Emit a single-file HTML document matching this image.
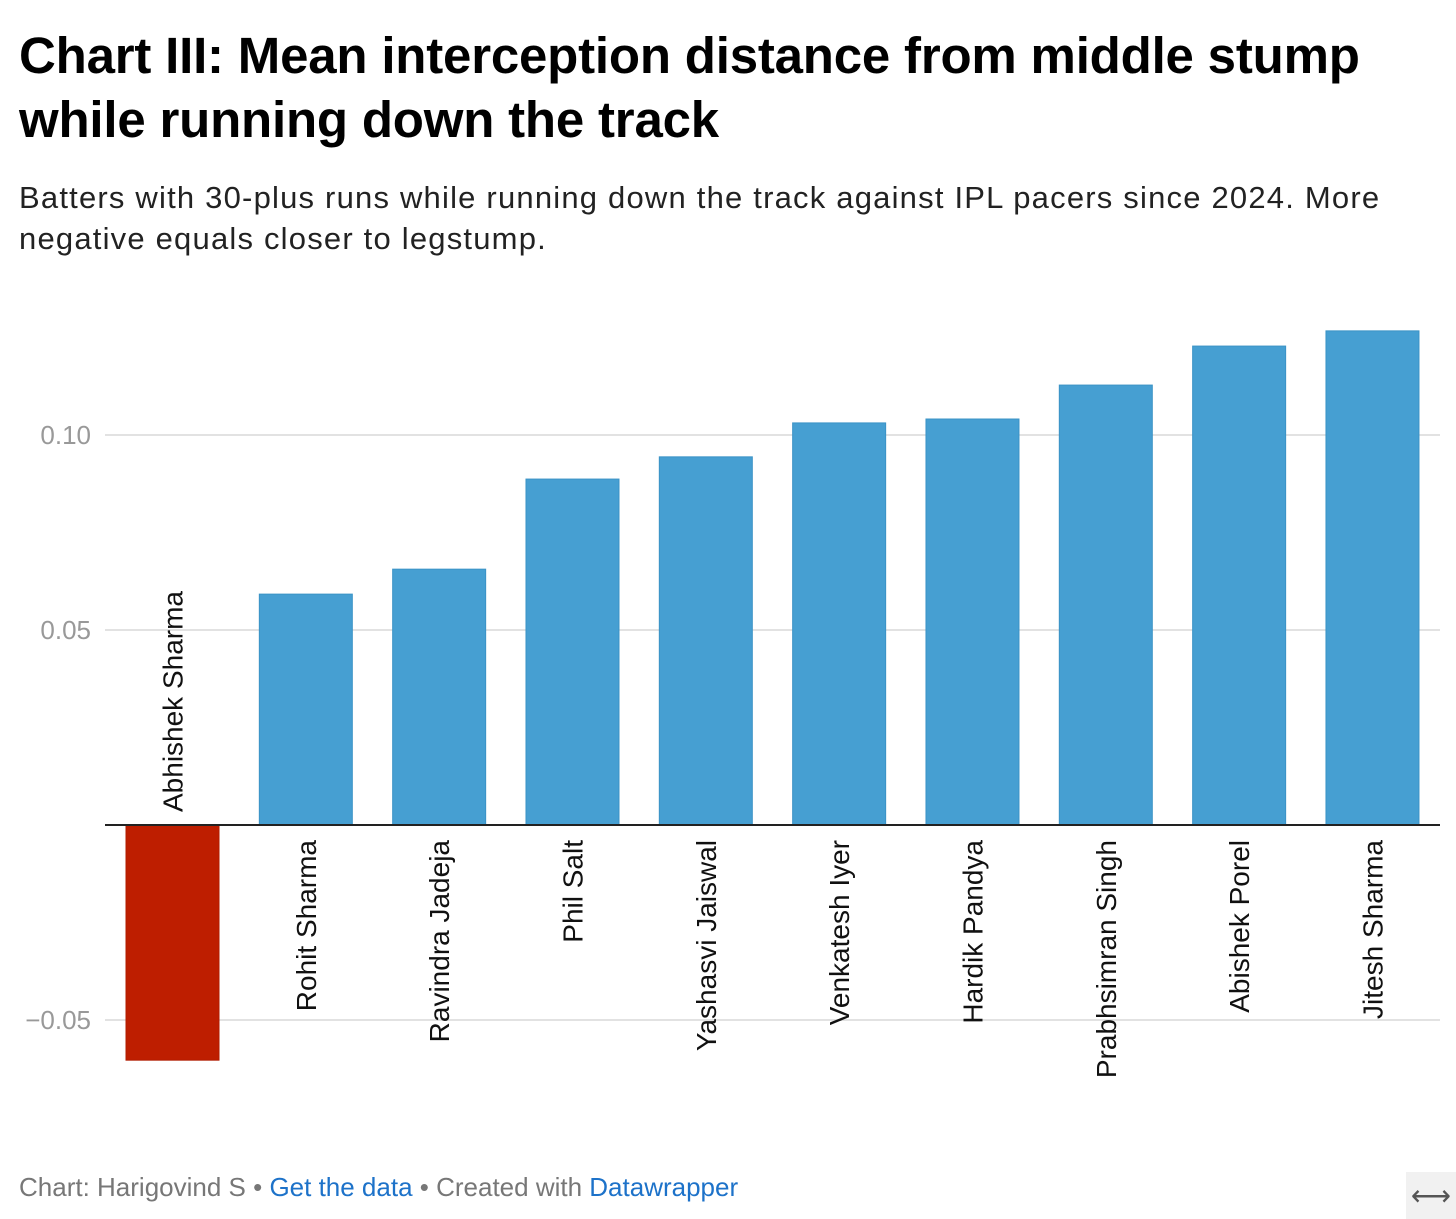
<!DOCTYPE html>
<html><head><meta charset="utf-8">
<style>
body{margin:0;background:#fff;width:1456px;height:1219px;overflow:hidden;font-family:"Liberation Sans",sans-serif;position:relative}
#title{position:absolute;left:19px;top:24px;font-size:51px;font-weight:bold;line-height:64px;color:#000;letter-spacing:-0.2px;white-space:nowrap}
#sub{position:absolute;left:19px;top:177px;font-size:31px;line-height:41px;color:#222;width:1420px;white-space:nowrap;letter-spacing:1.2px}
#foot{position:absolute;left:19px;top:1172px;font-size:26px;color:#777}
#foot a{color:#1d72c9;text-decoration:none}
#icon{position:absolute;left:1406px;top:1172px;width:50px;height:47px;background:#f1f1f1;color:#555;font-size:28px;text-align:center;line-height:47px}
svg{position:absolute;left:0;top:0}
</style></head><body>
<div id="title">Chart III: Mean interception distance from middle stump<br>while running down the track</div>
<div id="sub">Batters with 30-plus runs while running down the track against IPL pacers since 2024. More<br>negative equals closer to legstump.</div>
<svg id="chart" width="1456" height="1219"></svg>
<div id="foot">Chart: Harigovind S • <a>Get the data</a> • Created with <a>Datawrapper</a></div>
<div id="icon">⟷</div>
<script>
const categories=["Abhishek Sharma","Rohit Sharma","Ravindra Jadeja","Phil Salt","Yashasvi Jaiswal","Venkatesh Iyer","Hardik Pandya","Prabhsimran Singh","Abishek Porel","Jitesh Sharma"];
const values=[-0.0603,0.0592,0.0656,0.0887,0.0944,0.1031,0.1041,0.1128,0.1228,0.1267];
const ticks=[-0.05,0.05,0.10];
const tickLabels=["−0.05","0.05","0.10"];
const NS="http://www.w3.org/2000/svg";
const svg=document.getElementById('chart');
const y=v=>825-v*3900;
const x=i=>126+i*133.33;
const bw=93;
function mk(t,a){const e=document.createElementNS(NS,t);for(const k in a)e.setAttribute(k,a[k]);svg.appendChild(e);return e;}
ticks.forEach((t,i)=>{
  const l=mk('line',{x1:105,x2:1440,y1:y(t),y2:y(t),stroke:'#e2e2e2','stroke-width':2});
  
  
  const tx=mk('text',{x:91,y:y(t)+9,'text-anchor':'end','font-size':26,fill:'#999','font-family':'Liberation Sans, sans-serif'});
  tx.textContent=tickLabels[i];
  
  
});
values.forEach((v,i)=>{
  const top=Math.min(y(v),y(0)),h=Math.abs(y(v)-y(0));
  const r=mk('rect',{x:x(i),y:top,width:bw,height:h,fill:v<0?'#be1e00':'#469fd2',stroke:v<0?'#b01c00':'#3b93c6','stroke-width':1});
  
  
  const cx=x(i)+bw/2+10;
  let t;
  if(v<0){t=mk('text',{x:0,y:0,transform:`translate(${cx},812) rotate(-90)`,'text-anchor':'start','font-size':28,fill:'#111','font-family':'Liberation Sans, sans-serif'});}
  else{t=mk('text',{x:0,y:0,transform:`translate(${cx},840) rotate(-90)`,'text-anchor':'end','font-size':28,fill:'#111','font-family':'Liberation Sans, sans-serif'});}
  t.textContent=categories[i];
  
  
});
const b=mk('line',{x1:105,x2:1440,y1:825,y2:825,stroke:'#222','stroke-width':2});


</script>
</body></html>
